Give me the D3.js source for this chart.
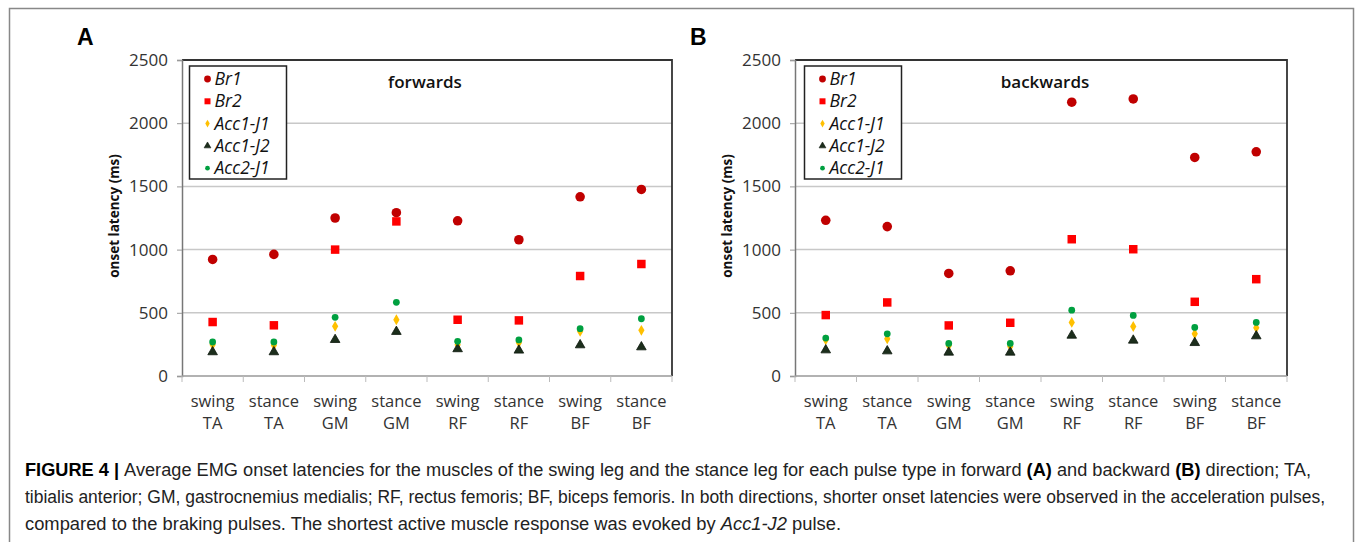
<!DOCTYPE html>
<html>
<head>
<meta charset="utf-8">
<script src="https://cdn.jsdelivr.net/npm/d3@7"></script>
<style>
  body { margin: 0; background: #fff; }
  svg { display: block; }
</style>
</head>
<body>
<svg width="1355" height="542"></svg>
<script>
const catTop = ["swing", "stance", "swing", "stance", "swing", "stance", "swing", "stance"];
const catBottom = ["TA", "TA", "GM", "GM", "RF", "RF", "BF", "BF"];
const yTicks = [0, 500, 1000, 1500, 2000, 2500];

const seriesNames = ["Br1", "Br2", "Acc1-J1", "Acc1-J2", "Acc2-J1"];

// forwards (A)
const fwdBr1 = [922, 962, 1250, 1292, 1228, 1078, 1418, 1476];
const fwdBr2 = [427, 401, 1000, 1223, 445, 440, 791, 886];
const fwdAcc1J1 = [248, 243, 393, 445, 248, 264, 353, 361];
const fwdAcc1J2 = [190, 190, 287, 351, 214, 203, 245, 229];
const fwdAcc2J1 = [269, 269, 464, 583, 274, 285, 374, 453];

// backwards (B)
const bwdBr1 = [1232, 1182, 811, 832, 2166, 2192, 1729, 1774];
const bwdBr2 = [482, 582, 400, 421, 1082, 1003, 587, 766];
const bwdAcc1J1 = [287, 295, 240, 234, 424, 392, 334, 382];
const bwdAcc1J2 = [205, 197, 187, 187, 321, 282, 263, 316];
const bwdAcc2J1 = [300, 334, 258, 258, 521, 479, 384, 424];

const styles = [
  { sym: d3.symbolCircle, size: 72, fill: "#c00000", stroke: "none" },
  { sym: d3.symbolSquare, size: 72, fill: "#ff0000", stroke: "none" },
  { sym: d3.symbolDiamond, size: 34, fill: "#ffc000", stroke: "none" },
  { sym: d3.symbolTriangle, size: 40, fill: "#1c2e1c", stroke: "#0d180d" },
  { sym: d3.symbolCircle, size: 36, fill: "#00a040", stroke: "none" }
];

const svg = d3.select("svg");
const font = "'Open Sans', sans-serif";

// outer frame
svg.append("rect").attr("x", 9.5).attr("y", 8.5).attr("width", 1344).attr("height", 600)
  .attr("fill", "none").attr("stroke", "#888").attr("stroke-width", 1.5);

function panel(opts) {
  const { left, right, top, bottom, letter, title, titleX, data, legendX } = opts;
  const g = svg.append("g");

  const x = d3.scaleBand().domain(d3.range(catTop.length)).range([left, right]);
  const y = d3.scaleLinear().domain([0, 2500]).range([bottom, top]);

  // gridlines
  g.append("g").selectAll("line").data(yTicks.filter(d => d > 0 && d < 2500)).join("line")
    .attr("x1", left).attr("x2", right)
    .attr("y1", d => y(d)).attr("y2", d => y(d))
    .attr("stroke", "#c8c8c8").attr("stroke-width", 1.5);

  // frame top/right
  g.append("path")
    .attr("d", `M${left},${top}H${right}V${bottom}`)
    .attr("fill", "none").attr("stroke", "#333").attr("stroke-width", 1.8);

  // y axis
  const ya = g.append("g").attr("transform", `translate(${left},0)`)
    .call(d3.axisLeft(y).tickValues(yTicks).tickFormat(d3.format("d")).tickSize(5).tickPadding(9));
  ya.select(".domain").attr("stroke", "#777").attr("stroke-width", 1.5);
  ya.selectAll(".tick line").attr("stroke", "#999");
  ya.selectAll(".tick text").attr("font-family", font).attr("font-size", 17).attr("fill", "#333");

  // x axis
  const xa = g.append("g").attr("transform", `translate(0,${bottom})`);
  xa.append("line").attr("x1", left).attr("x2", right).attr("y1", 0).attr("y2", 0)
    .attr("stroke", "#999").attr("stroke-width", 1.5);
  xa.selectAll("line.tk").data(d3.range(catTop.length + 1)).join("line").attr("class", "tk")
    .attr("x1", i => left + i * x.step()).attr("x2", i => left + i * x.step())
    .attr("y1", 0).attr("y2", 6).attr("stroke", "#bbb");
  const lab = xa.selectAll("text").data(d3.range(catTop.length)).join("text")
    .attr("x", i => x(i) + x.bandwidth() / 2)
    .attr("text-anchor", "middle")
    .attr("font-family", font).attr("font-size", 16.5).attr("fill", "#333");
  lab.append("tspan").attr("x", i => x(i) + x.bandwidth() / 2).attr("y", 31).text(i => catTop[i]);
  lab.append("tspan").attr("x", i => x(i) + x.bandwidth() / 2).attr("y", 53).text(i => catBottom[i]);

  // y title
  g.append("text")
    .attr("transform", `translate(${left - 63},${(top + bottom) / 2 - 2}) rotate(-90)`)
    .attr("text-anchor", "middle")
    .attr("font-family", font).attr("font-size", 13.5).attr("font-weight", "bold").attr("fill", "#111")
    .text("onset latency (ms)");

  // letter
  g.append("text").attr("x", left - 105).attr("y", 45)
    .attr("font-family", "'Liberation Sans', Arial, sans-serif").attr("font-size", 23)
    .attr("font-weight", "bold").attr("fill", "#000").text(letter);

  // title
  g.append("text").attr("x", titleX).attr("y", 88).attr("text-anchor", "middle")
    .attr("font-family", font).attr("font-size", 17).attr("font-weight", 600).attr("fill", "#111")
    .text(title);

  // points
  data.forEach((vals, s) => {
    const st = styles[s];
    g.append("g").selectAll("path").data(vals).join("path")
      .attr("d", d3.symbol().type(st.sym).size(st.size))
      .attr("transform", (d, i) => `translate(${x(i) + x.bandwidth() / 2},${y(d)})`)
      .attr("fill", st.fill).attr("stroke", st.stroke).attr("stroke-width", 0.8);
  });

  // legend
  const lg = g.append("g");
  lg.append("rect").attr("x", legendX).attr("y", 66).attr("width", 97).attr("height", 113)
    .attr("fill", "#fff").attr("stroke", "#222").attr("stroke-width", 1.5);
  seriesNames.forEach((name, s) => {
    const st = styles[s];
    const yy = 79 + s * 22.3;
    lg.append("path").attr("d", d3.symbol().type(st.sym).size(st.size * 0.5))
      .attr("transform", `translate(${legendX + 18},${yy})`)
      .attr("fill", st.fill).attr("stroke", st.stroke).attr("stroke-width", 0.6);
    lg.append("text").attr("x", legendX + 25).attr("y", yy + 6)
      .attr("font-family", font).attr("font-size", 17.5).attr("font-style", "italic").attr("fill", "#111")
      .text(name);
  });
}

panel({ left: 182, right: 672, top: 60, bottom: 376, letter: "A", title: "forwards", titleX: 425,
  data: [fwdBr1, fwdBr2, fwdAcc1J1, fwdAcc1J2, fwdAcc2J1], legendX: 189.5 });
panel({ left: 795, right: 1287, top: 60, bottom: 376, letter: "B", title: "backwards", titleX: 1045,
  data: [bwdBr1, bwdBr2, bwdAcc1J1, bwdAcc1J2, bwdAcc2J1], legendX: 804.5 });

// caption
const cap = svg.append("g").attr("font-family", "'Liberation Sans', Arial, sans-serif")
  .attr("font-size", 17.5).attr("fill", "#222");
const l1 = cap.append("text").attr("x", 25).attr("y", 476)
  .attr("textLength", 1286).attr("lengthAdjust", "spacingAndGlyphs");
l1.append("tspan").attr("font-weight", "bold").attr("fill", "#000").text("FIGURE 4 | ");
l1.append("tspan").text("Average EMG onset latencies for the muscles of the swing leg and the stance leg for each pulse type in forward ");
l1.append("tspan").attr("font-weight", "bold").attr("fill", "#000").text("(A)");
l1.append("tspan").text(" and backward ");
l1.append("tspan").attr("font-weight", "bold").attr("fill", "#000").text("(B)");
l1.append("tspan").text(" direction; TA,");
cap.append("text").attr("x", 25).attr("y", 503)
  .attr("textLength", 1300).attr("lengthAdjust", "spacingAndGlyphs")
  .text("tibialis anterior; GM, gastrocnemius medialis; RF, rectus femoris; BF, biceps femoris. In both directions, shorter onset latencies were observed in the acceleration pulses,");
const l3 = cap.append("text").attr("x", 25).attr("y", 530)
  .attr("textLength", 816).attr("lengthAdjust", "spacingAndGlyphs");
l3.append("tspan").text("compared to the braking pulses. The shortest active muscle response was evoked by ");
l3.append("tspan").attr("font-style", "italic").text("Acc1-J2");
l3.append("tspan").text(" pulse.");
</script>
</body>
</html>
